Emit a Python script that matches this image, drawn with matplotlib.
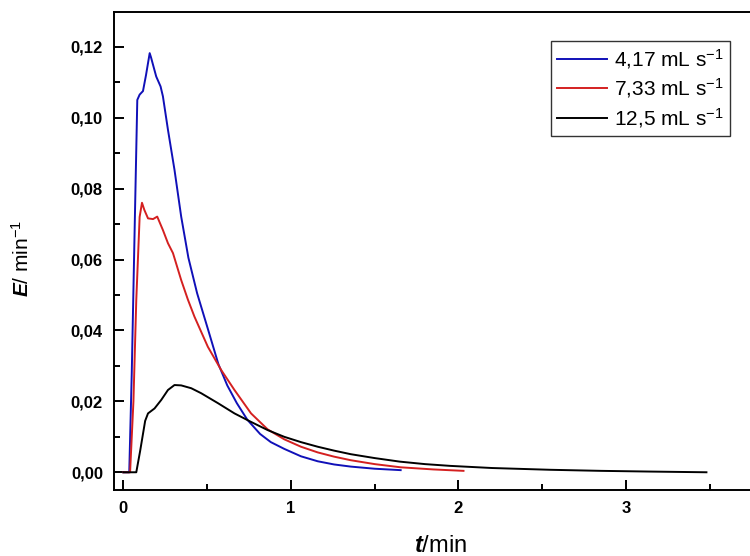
import numpy as np
import matplotlib
matplotlib.use('Agg')
import matplotlib.pyplot as plt
from matplotlib.ticker import MultipleLocator, FuncFormatter

# 曲线数据 (t / min, E / min^-1)
t_blue = [0, 0.035, 0.05, 0.067, 0.083, 0.097, 0.117, 0.135, 0.157, 0.165,
          0.177, 0.196, 0.222, 0.236, 0.266, 0.305, 0.345, 0.388, 0.44, 0.507,
          0.567, 0.62, 0.677, 0.74, 0.816, 0.88, 0.96, 1.06, 1.16, 1.258,
          1.357, 1.5, 1.655]
e_blue = [0, 0, 0.028, 0.068, 0.105, 0.1065, 0.1075, 0.112, 0.1182, 0.117,
          0.1149, 0.1116, 0.1088, 0.106, 0.0966, 0.0853, 0.0721, 0.0605, 0.0505, 0.0400,
          0.0305, 0.0245, 0.0195, 0.0148, 0.0108, 0.0085, 0.0066, 0.0045, 0.0031, 0.0022,
          0.0016, 0.001, 0.0006]

t_red = [0, 0.04, 0.06, 0.077, 0.097, 0.111, 0.125, 0.147, 0.177, 0.202,
         0.236, 0.266, 0.296, 0.345, 0.385, 0.424, 0.504, 0.583, 0.663, 0.762,
         0.861, 0.96, 1.06, 1.16, 1.258, 1.357, 1.5, 1.655, 1.85, 2.03]
e_red = [0, 0, 0.02, 0.0486, 0.072, 0.076, 0.074, 0.0716, 0.0714, 0.0721,
         0.0683, 0.0646, 0.0618, 0.0542, 0.0487, 0.0439, 0.0354, 0.0289, 0.0232, 0.0166,
         0.0121, 0.0093, 0.0072, 0.0056, 0.0044, 0.0034, 0.0023, 0.0014, 0.0008, 0.0004]

t_black = [0, 0.077, 0.1, 0.13, 0.147, 0.186, 0.226, 0.266, 0.305, 0.345,
           0.405, 0.464, 0.564, 0.663, 0.762, 0.861, 0.96, 1.06, 1.16, 1.258,
           1.357, 1.5, 1.65, 1.8, 1.952, 2.2, 2.548, 2.85, 3.14, 3.48]
e_black = [0, 0, 0.006, 0.0145, 0.0166, 0.018, 0.0204, 0.0232, 0.0246, 0.0245,
           0.0237, 0.0223, 0.0195, 0.0166, 0.0142, 0.0119, 0.0100, 0.0085, 0.0072, 0.0061,
           0.0051, 0.0040, 0.0030, 0.0023, 0.0018, 0.0012, 0.0007, 0.0004, 0.0002, 0.0]

labels = ['4,17 mL s$^{-1}$', '7,33 mL s$^{-1}$', '12,5 mL s$^{-1}$']
colors = ['#1010b8', '#d42020', 'black']

plt.rcParams['font.family'] = ['Liberation Sans', 'DejaVu Sans']
plt.rcParams['mathtext.fontset'] = 'custom'
plt.rcParams['mathtext.rm'] = 'Liberation Sans'
plt.rcParams['mathtext.it'] = 'Liberation Sans:italic'
plt.rcParams['mathtext.bf'] = 'Liberation Sans:bold'
plt.rcParams['mathtext.bfit'] = 'Liberation Sans:italic:bold'


def comma(v, pos):
    '''小数点改为逗号'''
    return f'{v:.2f}'.replace('.', ',')


def main():
    fig = plt.figure(figsize=(7.5, 5.56), dpi=100)
    ax = fig.add_axes([114 / 750, 66 / 556, 1 - 114 / 750, 478 / 556])

    for t, e, lab, c in zip([t_blue, t_red, t_black], [e_blue, e_red, e_black], labels, colors):
        ax.plot(t, e, color=c, lw=1.4, label=lab)

    ax.set_xlim(-0.056, 3.74)
    ax.set_ylim(-0.005, 0.1298)

    ax.xaxis.set_major_locator(MultipleLocator(1))
    ax.xaxis.set_minor_locator(MultipleLocator(0.5))
    ax.yaxis.set_major_locator(MultipleLocator(0.02))
    ax.yaxis.set_minor_locator(MultipleLocator(0.01))
    ax.yaxis.set_major_formatter(FuncFormatter(comma))

    ax.tick_params(which='both', direction='in', width=1.4, top=False, right=False)
    ax.tick_params(which='major', length=7, labelsize=12, pad=8)
    ax.tick_params(which='minor', length=4)
    for lab in ax.get_xticklabels() + ax.get_yticklabels():
        lab.set_fontweight('bold')

    for s in ['left', 'bottom', 'top']:
        ax.spines[s].set_linewidth(1.4)
    ax.spines['right'].set_visible(False)

    ax.set_xlabel(r'$\mathbfit{t}$/min', fontsize=17)
    ax.set_ylabel(r'$\mathbfit{E}$/ min$^{-1}$', fontsize=15)
    ax.xaxis.set_label_coords(0.513, -0.095)
    ax.yaxis.set_label_coords(-0.127, 0.485)

    leg = ax.legend(loc='upper left', bbox_to_anchor=(0.687, 0.939), borderaxespad=0,
                    fontsize=15, frameon=True, fancybox=False, edgecolor='black',
                    handlelength=2.4, handletextpad=0.35, borderpad=0.3,
                    labelspacing=0.25)
    leg.get_frame().set_linewidth(1.0)

    fig.savefig('out.png', dpi=100)


if __name__ == '__main__':
    main()
